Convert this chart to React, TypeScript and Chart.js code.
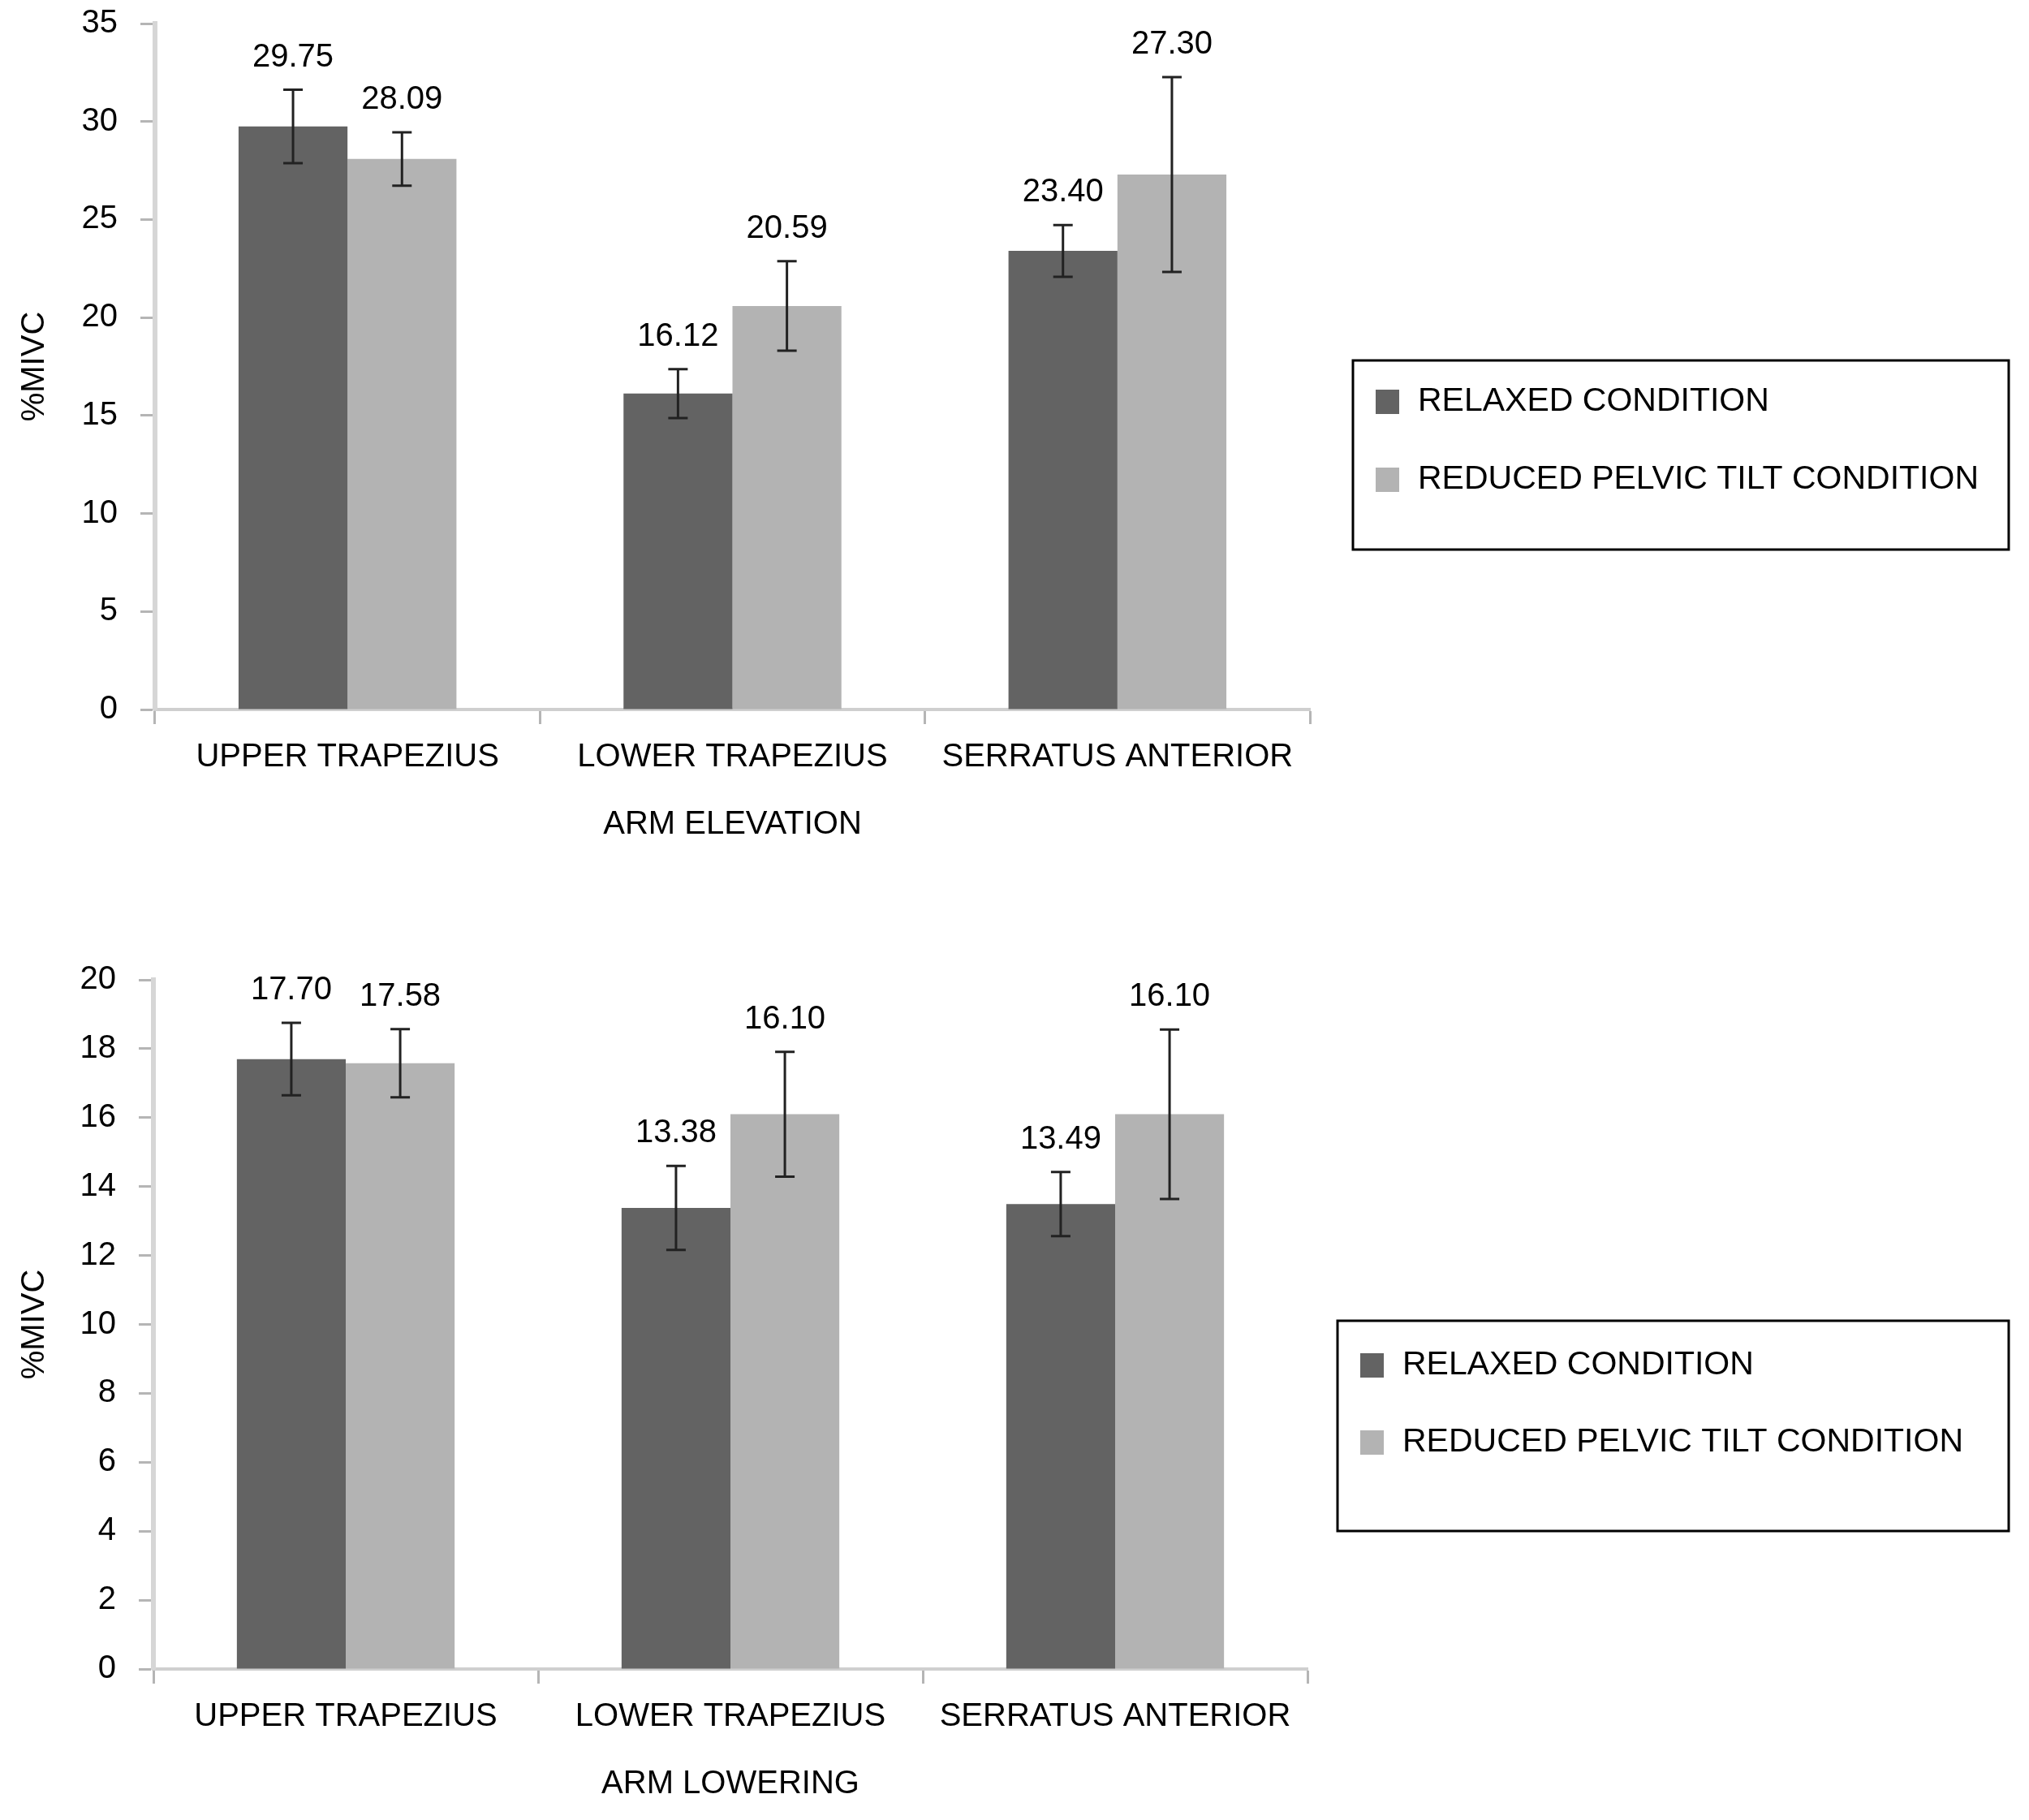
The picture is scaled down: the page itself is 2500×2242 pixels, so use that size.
import React, { useEffect, useRef } from 'react';
import { Chart, registerables } from 'chart.js';

Chart.register(...registerables);

const categories = ['UPPER TRAPEZIUS', 'LOWER TRAPEZIUS', 'SERRATUS ANTERIOR'];
const seriesNames = ['RELAXED CONDITION', 'REDUCED PELVIC TILT CONDITION'];

const elevationRelaxed = [29.75, 16.12, 23.4];
const elevationReduced = [28.09, 20.59, 27.3];
const elevationRelaxedErr = [1.87, 1.25, 1.32];
const elevationReducedErr = [1.36, 2.28, 4.97];

const loweringRelaxed = [17.7, 13.38, 13.49];
const loweringReduced = [17.58, 16.1, 16.1];
const loweringRelaxedErr = [1.05, 1.22, 0.93];
const loweringReducedErr = [0.99, 1.81, 2.46];

const elevationTickMax = 35;
const elevationTickStep = 5;
const loweringTickMax = 20;
const loweringTickStep = 2;

const DARK = '#636363';
const LIGHT = '#b3b3b3';
const FONT = '"Liberation Sans", Arial, Helvetica, sans-serif';

const errorBarPlugin = {
  id: 'errorBarsLabels',
  afterDatasetsDraw(chart: any) {
    const ctx = chart.ctx;
    const y = chart.scales.y;
    ctx.save();
    chart.data.datasets.forEach((ds: any, i: number) => {
      const meta = chart.getDatasetMeta(i);
      meta.data.forEach((bar: any, j: number) => {
        const v = ds.data[j];
        const e = ds.errors[j];
        const yt = y.getPixelForValue(v + e);
        const yb = y.getPixelForValue(v - e);
        const x = bar.x;
        ctx.strokeStyle = '#222';
        ctx.lineWidth = 3;
        ctx.beginPath();
        ctx.moveTo(x, yt);
        ctx.lineTo(x, yb);
        ctx.moveTo(x - 12, yt);
        ctx.lineTo(x + 12, yt);
        ctx.moveTo(x - 12, yb);
        ctx.lineTo(x + 12, yb);
        ctx.stroke();
        ctx.fillStyle = '#000';
        ctx.font = `40px ${FONT}`;
        ctx.textAlign = 'center';
        ctx.textBaseline = 'middle';
        ctx.fillText(v.toFixed(2), x, yt - 40);
      });
    });
    ctx.restore();
  },
};

const boxLegendPlugin = {
  id: 'boxLegend',
  afterDraw(chart: any, _args: any, opts: any) {
    const ctx = chart.ctx;
    ctx.save();
    ctx.strokeStyle = '#000';
    ctx.lineWidth = 3;
    ctx.strokeRect(opts.x, opts.y, opts.w, opts.h);
    chart.data.datasets.forEach((ds: any, i: number) => {
      const cy = opts.y + opts.first + i * opts.gap;
      ctx.fillStyle = ds.backgroundColor;
      ctx.fillRect(opts.x + 28, cy - 15, 29, 30);
      ctx.fillStyle = '#000';
      ctx.font = `41px ${FONT}`;
      ctx.textAlign = 'left';
      ctx.textBaseline = 'middle';
      ctx.fillText(ds.label, opts.x + 80, cy);
    });
    ctx.restore();
  },
};

type Cfg = {
  relaxed: number[];
  reduced: number[];
  relaxedErr: number[];
  reducedErr: number[];
  max: number;
  step: number;
  title: string;
  axisLeft: number;
  axisRight: number;
  areaTop: number;
  areaBottom: number;
  legend: { x: number; y: number; w: number; h: number; first: number; gap: number };
};

const W = 2500;
const H = 1121;
const XAXIS_H = 170;

function BarPanel({ cfg }: { cfg: Cfg }) {
  const ref = useRef<HTMLCanvasElement | null>(null);
  useEffect(() => {
    if (!ref.current) return;
    const chart = new Chart(ref.current, {
      type: 'bar',
      data: {
        labels: categories,
        datasets: [
          {
            label: seriesNames[0],
            data: cfg.relaxed,
            errors: cfg.relaxedErr,
            backgroundColor: DARK,
            borderWidth: 0,
          } as any,
          {
            label: seriesNames[1],
            data: cfg.reduced,
            errors: cfg.reducedErr,
            backgroundColor: LIGHT,
            borderWidth: 0,
          } as any,
        ],
      },
      options: {
        animation: false,
        responsive: false,
        devicePixelRatio: 1,
        layout: {
          padding: {
            left: 0,
            right: W - cfg.axisRight,
            top: cfg.areaTop,
            bottom: H - cfg.areaBottom - XAXIS_H,
          },
        },
        datasets: { bar: { categoryPercentage: 0.566, barPercentage: 1 } },
        plugins: {
          legend: { display: false },
          tooltip: { enabled: false },
          boxLegend: cfg.legend,
        } as any,
        scales: {
          x: {
            afterFit: (s: any) => {
              s.height = XAXIS_H;
              s.paddingLeft = 0;
              s.paddingRight = 0;
            },
            grid: {
              drawOnChartArea: false,
              drawTicks: true,
              tickLength: 18,
              tickColor: '#b5b5b5',
              tickWidth: 3,
              offset: true,
            },
            border: { color: '#cfcfcf', width: 4 },
            ticks: { font: { size: 40, family: FONT }, color: '#000', padding: 17, maxRotation: 0 },
            title: {
              display: true,
              text: cfg.title,
              font: { size: 40, family: FONT },
              color: '#000',
              padding: { top: 4, bottom: 4 },
            },
          },
          y: {
            min: 0,
            max: cfg.max,
            afterFit: (s: any) => {
              s.width = cfg.axisLeft;
              s.paddingTop = 0;
              s.paddingBottom = 0;
            },
            grid: {
              drawOnChartArea: false,
              drawTicks: true,
              tickLength: 18,
              tickColor: '#b5b5b5',
              tickWidth: 3,
            },
            border: { color: '#d6d6d6', width: 6 },
            ticks: {
              stepSize: cfg.step,
              font: { size: 40, family: FONT },
              color: '#000',
              padding: 28,
            },
            title: {
              display: true,
              text: '%MIVC',
              font: { size: 40, family: FONT },
              color: '#000',
              padding: { top: 19, bottom: 0 },
            },
          },
        },
      } as any,
      plugins: [errorBarPlugin, boxLegendPlugin],
    });
    return () => chart.destroy();
  }, [cfg]);
  return <canvas ref={ref} width={W} height={H} style={{ display: 'block', width: W, height: H }} />;
}

const elevationCfg: Cfg = {
  relaxed: elevationRelaxed,
  reduced: elevationReduced,
  relaxedErr: elevationRelaxedErr,
  reducedErr: elevationReducedErr,
  max: elevationTickMax,
  step: elevationTickStep,
  title: 'ARM ELEVATION',
  axisLeft: 191,
  axisRight: 1614,
  areaTop: 29,
  areaBottom: 874,
  legend: { x: 1667, y: 444, w: 808, h: 233, first: 51, gap: 96 },
};

const loweringCfg: Cfg = {
  relaxed: loweringRelaxed,
  reduced: loweringReduced,
  relaxedErr: loweringRelaxedErr,
  reducedErr: loweringReducedErr,
  max: loweringTickMax,
  step: loweringTickStep,
  title: 'ARM LOWERING',
  axisLeft: 189,
  axisRight: 1611,
  areaTop: 86,
  areaBottom: 935,
  legend: { x: 1648, y: 506, w: 827, h: 259, first: 55, gap: 95 },
};

export default function App() {
  return (
    <div style={{ position: 'absolute', left: 0, top: 0, width: W, height: 2 * H, background: '#fff' }}>
      <BarPanel cfg={elevationCfg} />
      <BarPanel cfg={loweringCfg} />
    </div>
  );
}
